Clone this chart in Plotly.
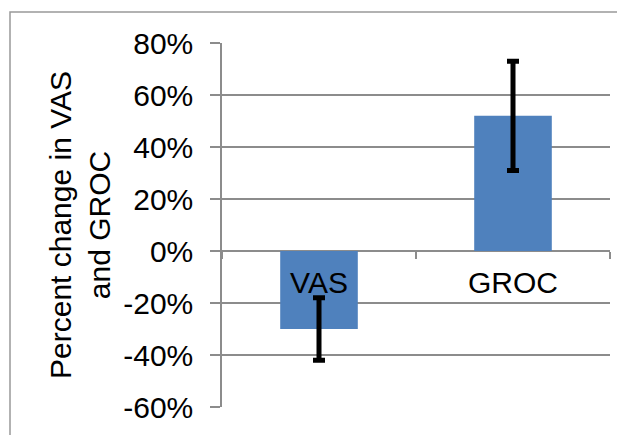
import plotly.graph_objects as go

categories = ["VAS", "GROC"]
values = [-30, 52]
err_plus = [12, 21]
err_minus = [12, 21]
tick_vals = [-60, -40, -20, 0, 20, 40, 60, 80]
tick_text = ["-60%", "-40%", "-20%", "0%", "20%", "40%", "60%", "80%"]

ymin, ymax = -60, 80
fig = go.Figure(go.Bar(
    x=categories, y=values,
    marker=dict(color="#4F81BD", line=dict(width=0)),
    width=0.4,
    error_y=dict(type="data", array=err_plus, arrayminus=err_minus,
                 color="black", thickness=5, width=6),
))

# page body has an 8px offset
OFF = 8
W, H = 625 - OFF, 435 - OFF
L, T = 222 - OFF, 43 - OFF
R = W - (610 - OFF)
B = H - (407 - OFF)
pw = W - L - R
ph = H - T - B
fs = 30
fig.update_layout(
    width=W, height=H,
    margin=dict(l=L, r=R, t=T, b=B),
    paper_bgcolor="white", plot_bgcolor="white",
    font=dict(family="Liberation Sans, Arial", size=fs, color="black"),
    showlegend=False,
    xaxis=dict(type="category", anchor="free", position=(0 - ymin) / (ymax - ymin),
               showline=False, showgrid=False, ticks="outside", tickson="boundaries",
               ticklen=7, tickcolor="#8c8c8c", tickwidth=1.5,
               ticklabelstandoff=11,
               tickfont=dict(size=fs), zeroline=False),
    yaxis=dict(range=[ymin, ymax], tickvals=tick_vals, ticktext=tick_text,
               showgrid=True, gridcolor="#8c8c8c", gridwidth=1.5,
               showline=True, linecolor="#8c8c8c", linewidth=1.5,
               ticks="outside", ticklen=10, tickcolor="#8c8c8c", tickwidth=1.5,
               ticklabelstandoff=11,
               zeroline=False, tickfont=dict(size=fs),
               title=dict(text="Percent change in VAS<br>and GROC", font=dict(size=fs),
                          standoff=4)),
    shapes=[dict(type="rect", xref="paper", yref="paper",
                 x0=(10 - OFF - L) / pw, x1=(W + 5 - L) / pw,
                 y0=-(H + 5 - T - ph) / ph, y1=1 + (T - (12 - OFF)) / ph,
                 line=dict(color="#999", width=1.5), layer="below")],
)
fig.write_html("out.html")
